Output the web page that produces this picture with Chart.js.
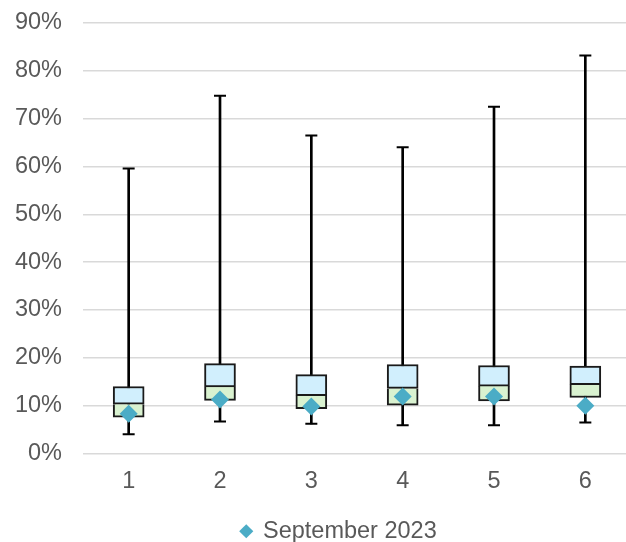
<!DOCTYPE html>
<html>
<head>
<meta charset="utf-8">
<script src="https://cdn.jsdelivr.net/npm/chart.js@4/dist/chart.umd.min.js"></script>
<style>
  html, body { margin: 0; padding: 0; background: #fff; overflow: hidden; }
  #wrap { width: 626px; height: 542px; overflow: hidden; }
</style>
</head>
<body>
<div id="wrap"><canvas id="boxChart" width="640" height="542"></canvas></div>
<script>
// categories and box plot values (in %)
const categories = ["1", "2", "3", "4", "5", "6"]
const lowValues = [4.0, 6.7, 6.2, 5.9, 5.9, 6.5]
const q1Values = [7.6, 11.1, 9.35, 10.1, 11.0, 11.7]
const medianValues = [10.3, 13.9, 12.1, 13.6, 14.1, 14.4]
const q3Values = [14.0, 18.8, 16.5, 18.6, 18.4, 18.3]
const highValues = [59.6, 74.8, 66.5, 64.0, 72.5, 83.2]
const septValues = [8.3, 11.3, 9.8, 11.9, 11.9, 10.0]
const yTicks = [0, 10, 20, 30, 40, 50, 60, 70, 80, 90]

const labelFont = { family: "'Liberation Sans', Arial, sans-serif", size: 23.5 }
const labelColor = "#595959"

// nudge the legend a bit right, like the original
const legendShift = {
  id: "legendShift",
  afterLayout(chart) {
    chart.legend.left += 12
    chart.legend.right += 12
  },
}

const ctx = document.getElementById("boxChart").getContext("2d")

new Chart(ctx, {
  type: "bar",
  data: {
    labels: categories,
    datasets: [
      {
        // September 2023 markers, drawn on top
        type: "line",
        label: "September 2023",
        data: septValues,
        showLine: false,
        pointStyle: "rectRot",
        pointRadius: 9,
        pointBackgroundColor: "#4BACC6",
        pointBorderColor: "#4BACC6",
        pointBorderWidth: 0,
        backgroundColor: "#4BACC6",
        borderColor: "#4BACC6",
        order: 0,
      },
      {
        type: "line",
        label: "high cap",
        data: highValues,
        showLine: false,
        pointStyle: "line",
        pointRadius: 6,
        pointBorderWidth: 2,
        pointBorderColor: "#000",
        order: 1,
      },
      {
        type: "line",
        label: "low cap",
        data: lowValues,
        showLine: false,
        pointStyle: "line",
        pointRadius: 6,
        pointBorderWidth: 2,
        pointBorderColor: "#000",
        order: 1,
      },
      {
        label: "upper box",
        data: categories.map((c, i) => [medianValues[i], q3Values[i]]),
        backgroundColor: "#D1EFFD",
        borderColor: "#1a1a1a",
        borderWidth: 2,
        borderSkipped: false,
        barThickness: 31,
        grouped: false,
        order: 2,
      },
      {
        // top edge skipped so the median line is not doubled
        label: "lower box",
        data: categories.map((c, i) => [q1Values[i], medianValues[i]]),
        backgroundColor: "#D9F2D0",
        borderColor: "#1a1a1a",
        borderWidth: 2,
        borderSkipped: "end",
        barThickness: 31,
        grouped: false,
        order: 2,
      },
      {
        label: "whisker",
        data: categories.map((c, i) => [lowValues[i], highValues[i]]),
        backgroundColor: "#000",
        borderWidth: 0,
        barThickness: 2,
        grouped: false,
        order: 3,
      },
    ],
  },
  options: {
    responsive: false,
    animation: false,
    layout: {
      padding: { left: 14, right: 0, top: 23, bottom: -11 },
    },
    scales: {
      x: {
        offset: true,
        grid: { display: false, drawTicks: false },
        border: { display: false },
        ticks: { color: labelColor, font: labelFont, padding: 14 },
        afterFit: (scale) => {
          scale.height = 66
        },
      },
      y: {
        min: 0,
        max: 90,
        afterBuildTicks: (scale) => {
          scale.ticks = yTicks.map((v) => ({ value: v }))
        },
        grid: {
          color: "#D9D9D9",
          lineWidth: 1.5,
          drawTicks: true,
          tickLength: 21,
          tickColor: "rgba(0,0,0,0)",
        },
        border: { display: false },
        ticks: {
          color: labelColor,
          font: labelFont,
          padding: 0,
          callback: (v) => v + "%",
        },
        afterFit: (scale) => {
          scale.width = 69
        },
      },
    },
    plugins: {
      tooltip: { enabled: false },
      legend: {
        position: "bottom",
        labels: {
          usePointStyle: true,
          boxWidth: 10,
          boxHeight: 10,
          padding: 0,
          color: labelColor,
          font: labelFont,
          filter: (item) => item.text === "September 2023",
        },
      },
    },
  },
  plugins: [legendShift],
})
</script>
</body>
</html>
